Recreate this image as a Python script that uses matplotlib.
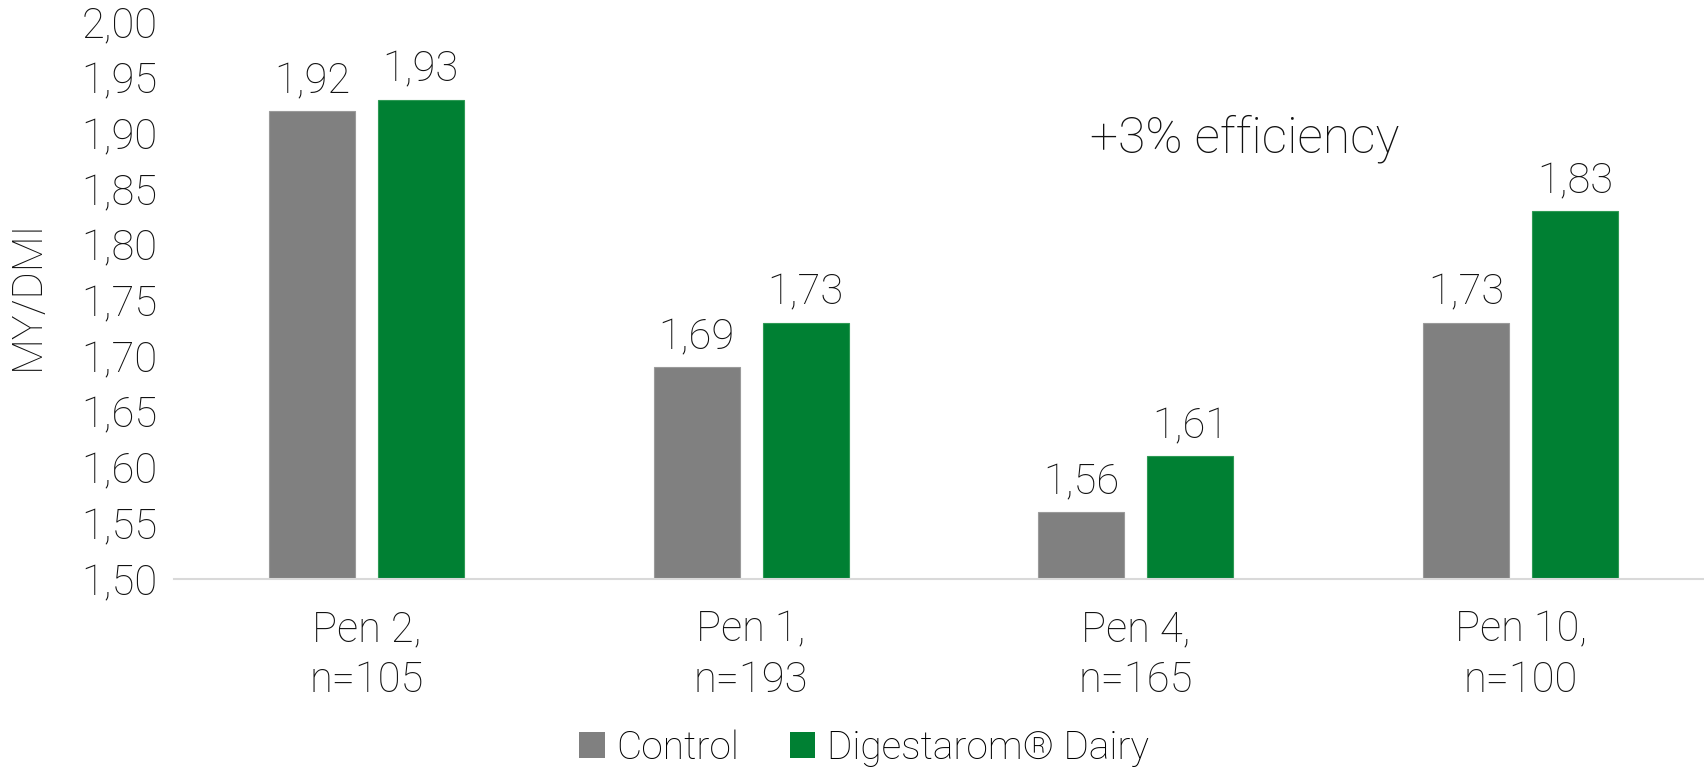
import matplotlib
matplotlib.use("Agg")
import matplotlib.pyplot as plt
import numpy as np
from matplotlib.patches import Patch

plt.rcParams['font.family'] = ['Roboto', 'Liberation Sans', 'DejaVu Sans']
plt.rcParams['font.weight'] = 'light'
plt.rcParams['axes.labelweight'] = 'light'

categories = ["Pen 2,\nn=105", "Pen 1,\nn=193", "Pen 4,\nn=165", "Pen 10,\nn=100"]
control = [1.92, 1.69, 1.56, 1.73]
digestarom = [1.93, 1.73, 1.61, 1.83]
series_names = ["Control", "Digestarom® Dairy"]
y_ticks = [1.50, 1.55, 1.60, 1.65, 1.70, 1.75, 1.80, 1.85, 1.90, 1.95, 2.00]

gray = "#808080"
green = "#008033"
ink = "#111111"

fig = plt.figure(figsize=(17.04, 7.68), dpi=100)
ax = fig.add_axes([0.1021, 0.2461, 0.9032, 0.7256])

x = np.arange(len(categories))
w = 0.2235
off = 0.1416
ax.bar(x - off, control, width=w, color=gray, edgecolor="#9a9a9a", linewidth=0.8)
ax.bar(x + off, digestarom, width=w, color=green, edgecolor="#2e9a55", linewidth=0.8)

fs = 30
def fmt(v):
    return f"{v:.2f}".replace(".", ",")

for xi, v in zip(x - off, control):
    ax.text(xi, v + 0.008, fmt(v), ha="center", va="bottom", fontsize=fs, color=ink)
for xi, v in zip(x + off, digestarom):
    ax.text(xi, v + 0.008, fmt(v), ha="center", va="bottom", fontsize=fs, color=ink)

ax.set_ylim(1.50, 2.00)
ax.set_xlim(-0.5, len(categories) - 0.5)
ax.set_yticks(y_ticks)
ax.set_yticklabels([fmt(t) for t in y_ticks], fontsize=fs, color=ink)
ax.set_xticks(x)
ax.set_xticklabels(categories, fontsize=fs, color=ink, linespacing=1.3)
ax.tick_params(axis="both", length=0)
ax.tick_params(axis="y", pad=12)
ax.tick_params(axis="x", pad=22)
for s in ["left", "right", "top"]:
    ax.spines[s].set_visible(False)
ax.spines["bottom"].set_color("#d9d9d9")
ax.spines["bottom"].set_linewidth(1.5)

ax.set_ylabel("MY/DMI", fontsize=fs, color=ink, fontweight="light", va="center")
ax.yaxis.set_label_coords(-0.095, 0.51)

ax.text(2.284, 1.895, "+3% efficiency", ha="center", va="center", fontsize=36, color=ink)

handles = [Patch(facecolor=gray, edgecolor="none"), Patch(facecolor=green, edgecolor="none")]
fig.legend(handles, series_names, loc="center", bbox_to_anchor=(0.507, 0.026), ncol=2,
           frameon=False, fontsize=28, handlelength=0.65, handleheight=0.65,
           handletextpad=0.3, columnspacing=1.3)

fig.savefig("out.png", dpi=100, facecolor="white")
